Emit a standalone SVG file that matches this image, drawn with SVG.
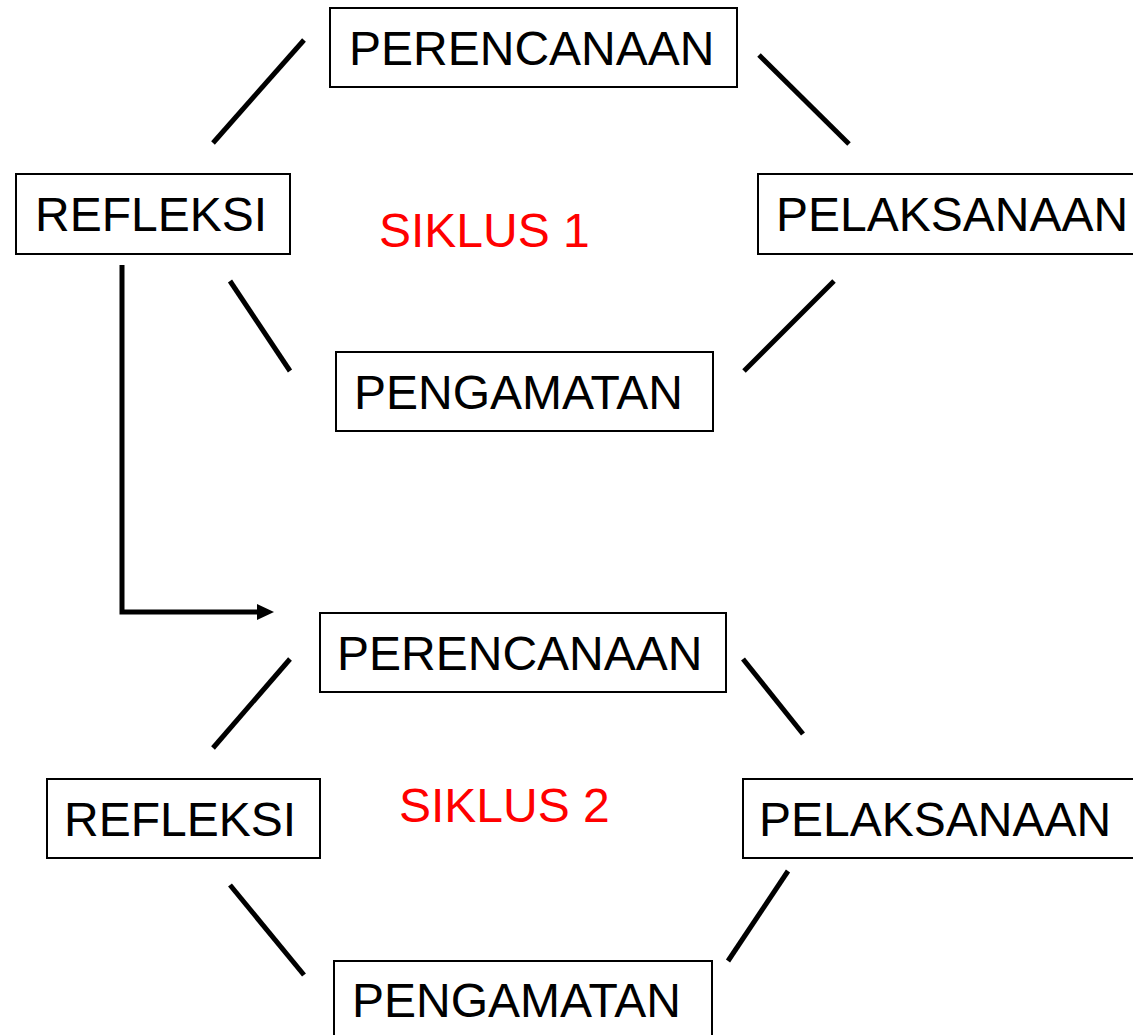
<svg xmlns="http://www.w3.org/2000/svg" width="1133" height="1035" viewBox="0 0 1133 1035">
<defs>
<style>
.box{fill:#fff;stroke:#000;stroke-width:2}
.lbl{font-family:"Liberation Sans",Arial,sans-serif;font-size:48px;fill:#000}
.red{font-family:"Liberation Sans",Arial,sans-serif;font-size:48px;fill:#ff0000}
.ln{stroke:#000;stroke-width:5;fill:none}
</style>
</defs>
<rect width="1133" height="1035" fill="#fff"/>
<g id="connectors">
<line class="ln" x1="213" y1="143" x2="304" y2="40"/>
<line class="ln" x1="759" y1="55" x2="849" y2="144"/>
<line class="ln" x1="834" y1="281" x2="744" y2="371"/>
<line class="ln" x1="230" y1="281" x2="290" y2="371"/>
<line class="ln" x1="213" y1="748" x2="290" y2="659"/>
<line class="ln" x1="743" y1="659" x2="803" y2="734"/>
<line class="ln" x1="788" y1="871" x2="728" y2="961"/>
<line class="ln" x1="230" y1="885" x2="304" y2="975"/>
<polyline class="ln" points="122,265 122,612 258,612"/>
<path d="M257,604 L274,612 L257,620 Z" fill="#000"/>
</g>
<g id="perencanaan1"><rect class="box" x="330" y="8" width="407" height="79"/><text class="lbl" x="349" y="65">PERENCANAAN</text></g>
<g id="pelaksanaan1"><rect class="box" x="758" y="174" width="390" height="80"/><text class="lbl" x="776" y="231">PELAKSANAAN</text></g>
<g id="refleksi1"><rect class="box" x="16" y="174" width="274" height="80"/><text class="lbl" x="35" y="231">REFLEKSI</text></g>
<g id="pengamatan1"><rect class="box" x="336" y="352" width="377" height="79"/><text class="lbl" x="354" y="409">PENGAMATAN</text></g>
<g id="siklus1"><text class="red" x="379" y="247">SIKLUS 1</text></g>
<g id="perencanaan2"><rect class="box" x="320" y="613" width="406" height="79"/><text class="lbl" x="337" y="670">PERENCANAAN</text></g>
<g id="refleksi2"><rect class="box" x="47" y="779" width="273" height="79"/><text class="lbl" x="64" y="836">REFLEKSI</text></g>
<g id="pelaksanaan2"><rect class="box" x="743" y="779" width="400" height="79"/><text class="lbl" x="759" y="836">PELAKSANAAN</text></g>
<g id="pengamatan2"><rect class="box" x="334" y="961" width="378" height="90"/><text class="lbl" x="352" y="1017">PENGAMATAN</text></g>
<g id="siklus2"><text class="red" x="399" y="822">SIKLUS 2</text></g>
</svg>
